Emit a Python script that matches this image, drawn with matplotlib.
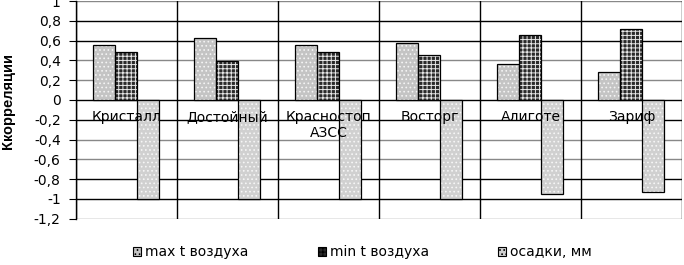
import matplotlib
matplotlib.use("Agg")
import matplotlib.pyplot as plt
import numpy as np

plt.rcParams['font.family'] = ['DejaVu Sans']
plt.rcParams['hatch.linewidth'] = 0.7

# данные
sorta = ["Кристалл", "Достойный", "Красностоп\nАЗСС", "Восторг", "Алиготе", "Зариф"]
max_t = [0.56, 0.63, 0.56, 0.58, 0.36, 0.28]
min_t = [0.48, 0.39, 0.48, 0.45, 0.66, 0.72]
osadki = [-1.0, -1.0, -1.0, -1.0, -0.95, -0.93]
legenda = ["max t воздуха", "min t воздуха", "осадки, мм"]
yticks = [1, 0.8, 0.6, 0.4, 0.2, 0, -0.2, -0.4, -0.6, -0.8, -1, -1.2]

fig = plt.figure(figsize=(6.84, 2.65), dpi=100)
ax = fig.add_axes([0.111, 0.175, 0.886, 0.821])

x = np.arange(len(sorta))
w = 0.218
# заливка с узором, потом чёрный контур
ax.bar(x - w, max_t, w, color="#c4c4c4", edgecolor="#f4f4f4", hatch="....", linewidth=0, zorder=3)
ax.bar(x, min_t, w, color="#2a2a2a", edgecolor="#e8e8e8", hatch="++++", linewidth=0, zorder=3)
ax.bar(x + w, osadki, w, color="#d0d0d0", edgecolor="#f6f6f6", hatch="....", linewidth=0, zorder=3)
ax.bar(x - w, max_t, w, fill=False, edgecolor="black", linewidth=0.9, zorder=4)
ax.bar(x, min_t, w, fill=False, edgecolor="black", linewidth=0.9, zorder=4)
ax.bar(x + w, osadki, w, fill=False, edgecolor="black", linewidth=0.9, zorder=4)

ax.set_xlim(-0.5, len(sorta) - 0.5)
ax.set_ylim(-1.2, 1)
ax.set_yticks(yticks)
ax.set_yticklabels([("%g" % v).replace(".", ",") for v in yticks], fontsize=10)
ax.set_xticks([])

# сетка
tёмные = [0.8, 0.6, 0, -0.2, -0.8, -1]
for v in yticks:
    c = "black" if v in tёмные else "#888888"
    ax.axhline(v, color=c, linewidth=1.0, zorder=1)
for i in range(len(sorta) + 1):
    ax.axvline(i - 0.5, color="black", linewidth=1.0, zorder=1)

for s in ["top", "right", "bottom"]:
    ax.spines[s].set_visible(False)
ax.spines["left"].set_linewidth(1.0)
ax.tick_params(axis="y", length=5, pad=6)

for i, s in enumerate(sorta):
    ax.text(i, -0.1, s, ha="center", va="top", fontsize=10, zorder=5, linespacing=1.2)

ax.set_ylabel("Ккорреляции", fontsize=10.5, fontweight="bold", family="Liberation Sans")
ax.yaxis.set_label_coords(-0.1, 0.54)

# образцы легенды с тем же узором
h1 = plt.Rectangle((0, 0), 1, 1, facecolor="#c4c4c4", edgecolor="black", hatch="....", linewidth=0.8)
h2 = plt.Rectangle((0, 0), 1, 1, facecolor="#2a2a2a", edgecolor="black", hatch="++++", linewidth=0.8)
h3 = plt.Rectangle((0, 0), 1, 1, facecolor="#d0d0d0", edgecolor="black", hatch="....", linewidth=0.8)
fig.legend([h1, h2, h3], legenda, loc="lower center", bbox_to_anchor=(0.53, -0.025), ncol=3,
           frameon=False, fontsize=10, handlelength=0.6, handleheight=0.6,
           columnspacing=4.95, handletextpad=0.3)

fig.savefig("out.png", dpi=100)
